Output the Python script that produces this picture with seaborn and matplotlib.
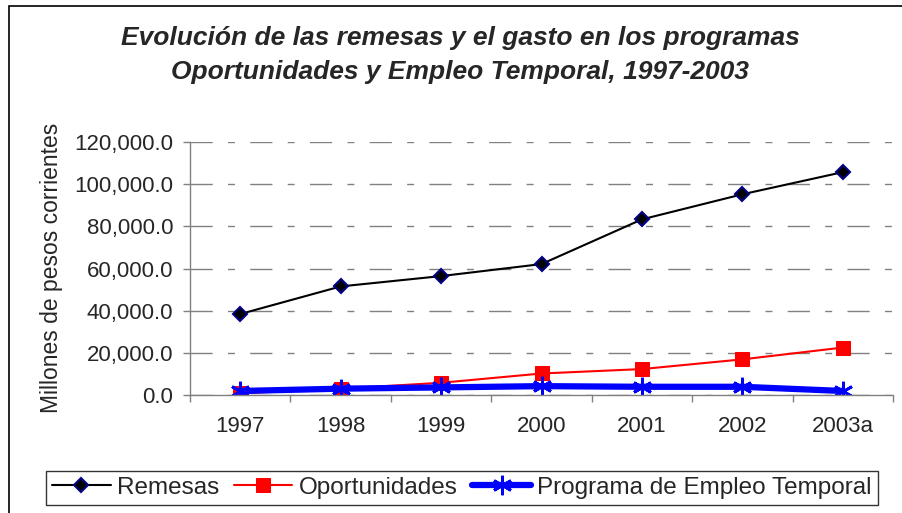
import numpy as np
import pandas as pd
import matplotlib
matplotlib.use("Agg")
import matplotlib.pyplot as plt
import seaborn as sns
from matplotlib.patches import Rectangle
from matplotlib.ticker import FuncFormatter, FixedLocator

# data (millones de pesos corrientes)
years = ["1997", "1998", "1999", "2000", "2001", "2002", "2003a"]
remesas = [38400, 51500, 56400, 62100, 83300, 95200, 105700]
oportunidades = [800, 3000, 5800, 10200, 12300, 16900, 22500]
empleo_temporal = [1900, 3000, 3600, 4200, 3900, 3900, 1900]

sns.set_style("white")
plt.rcParams["font.family"] = ["Liberation Sans", "DejaVu Sans"]

fig = plt.figure(figsize=(9.02, 5.13), dpi=100)
ax = fig.add_axes([190 / 902, 1 - 395 / 513, 703 / 902, 253 / 513])

sns.lineplot(x=years, y=remesas, ax=ax, color="black", linewidth=1.5,
             marker="D", markersize=7.5, markerfacecolor="black",
             markeredgecolor="#000080", markeredgewidth=1.5, label="Remesas")
sns.lineplot(x=years, y=oportunidades, ax=ax, color="#ff0000", linewidth=1.5,
             marker="s", markersize=9.5, markerfacecolor="#ff0000",
             markeredgecolor="#ff0000", label="Oportunidades")
sns.lineplot(x=years, y=empleo_temporal, ax=ax, color="#0000ff", linewidth=4.5,
             marker=(6, 2, 0), markersize=14, markeredgecolor="#0000ff",
             markeredgewidth=2, label="Programa de Empleo Temporal")

ax.set_xlim(-0.5, len(years) - 0.5)
ax.set_ylim(0, 120000)
ax.set_yticks(np.arange(0, 120001, 20000))
ax.yaxis.set_major_formatter(FuncFormatter(lambda v, p: f"{v:,.1f}"))

# dashed gray gridlines like the original
ax.yaxis.grid(True, color="#808080", linewidth=1, dashes=(16, 11, 5, 11))
ax.xaxis.grid(False)
ax.set_axisbelow(True)

for s in ["top", "right"]:
    ax.spines[s].set_visible(False)
for s in ["left", "bottom"]:
    ax.spines[s].set_color("#808080")
    ax.spines[s].set_linewidth(1)

ax.tick_params(axis="y", which="major", direction="out", length=5, width=1,
               color="#808080", pad=7, labelsize=16, left=True)
ax.tick_params(axis="x", which="major", length=0, pad=15, labelsize=16)
ax.xaxis.set_minor_locator(FixedLocator(np.arange(-0.5, len(years), 1.0)))
ax.tick_params(axis="x", which="minor", direction="out", length=5, width=1,
               color="#808080", bottom=True)

ax.set_xlabel("")
ax.set_ylabel("")
fig.text(52 / 902, 1 - 268 / 513, "Millones de pesos corrientes", rotation=90,
         ha="center", va="center", fontsize=16.5)

fig.text(460 / 902, 1 - 55 / 513,
         "Evolución de las remesas y el gasto en los programas\n"
         "Oportunidades y Empleo Temporal, 1997-2003",
         ha="center", va="center", fontsize=19, fontweight="bold",
         fontstyle="italic", linespacing=1.5)

handles, labels = ax.get_legend_handles_labels()
ax.legend_.remove()
leg = fig.legend(handles, labels, loc="center", bbox_to_anchor=(462 / 902, 1 - 488 / 513),
                 ncol=3, fontsize=17.5, frameon=True, fancybox=False, shadow=False,
                 edgecolor="black", handlelength=2.4, handletextpad=0.27,
                 columnspacing=0.6, borderpad=0.25)
leg.get_frame().set_linewidth(1)

# outer chart frame
fig.patches.append(Rectangle((9 / 902, -0.05), 1.2, 1 - 6 / 513 + 0.05,
                             transform=fig.transFigure, fill=False,
                             edgecolor="black", linewidth=1.2))

fig.savefig("out.png", dpi=100)
